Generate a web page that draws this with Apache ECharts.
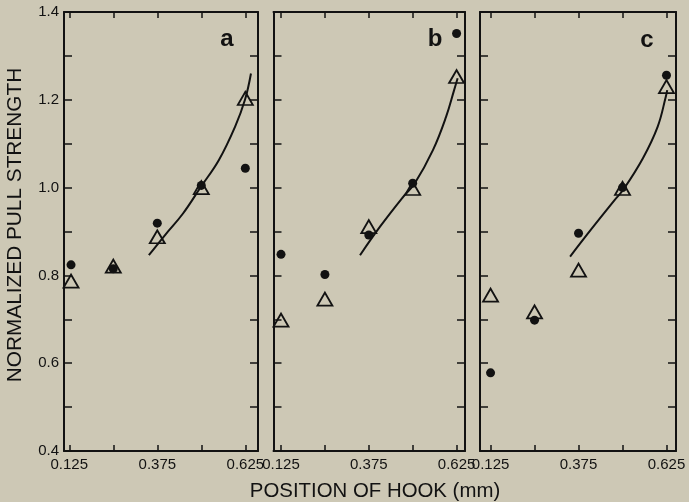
<!DOCTYPE html>
<html>
<head>
<meta charset="utf-8">
<script src="https://cdn.jsdelivr.net/npm/echarts@6/dist/echarts.min.js"></script>
<style>
html,body{margin:0;padding:0;background:#cdc8b5;}
#chart{width:689px;height:502px;}
</style>
</head>
<body>
<div id="chart"></div>
<script>
// ---- tick labels ----
var xTicks = [0.125, 0.25, 0.375, 0.5, 0.625];
var xLabels = [0.125, 0.375, 0.625];
var yTicks = [0.4, 0.5, 0.6, 0.7, 0.8, 0.9, 1.0, 1.1, 1.2, 1.3, 1.4];
var yLabels = [0.4, 0.6, 0.8, 1.0, 1.2, 1.4];
var panelNames = ['a', 'b', 'c'];

// ---- panel a ----
var aX = [0.13, 0.25, 0.375, 0.5, 0.625];
var aDot = [0.824, 0.815, 0.919, 1.005, 1.044];
var aTri = [0.787, 0.821, 0.888, 1.0, 1.203];
var aCurve = [[0.351,0.846],[0.397,0.892],[0.448,0.941],[0.499,1.002],[0.550,1.063],[0.596,1.139],[0.624,1.2],[0.641,1.26]];

// ---- panel b ----
var bX = [0.125, 0.25, 0.375, 0.5, 0.625];
var bDot = [0.848, 0.802, 0.892, 1.01, 1.351];
var bTri = [0.698, 0.746, 0.911, 0.998, 1.253];
var bCurve = [[0.350,0.846],[0.407,0.911],[0.473,0.979],[0.506,1.01],[0.558,1.086],[0.595,1.161],[0.618,1.222],[0.628,1.249]];

// ---- panel c ----
var cX = [0.125, 0.25, 0.375, 0.5, 0.625];
var cDot = [0.578, 0.698, 0.896, 1.0, 1.256];
var cTri = [0.755, 0.717, 0.812, 0.998, 1.23];
var cCurve = [[0.351,0.843],[0.413,0.907],[0.478,0.972],[0.502,0.995],[0.558,1.067],[0.600,1.139],[0.623,1.207],[0.627,1.222]];

var panels = [
  {x: aX, dot: aDot, tri: aTri, curve: aCurve},
  {x: bX, dot: bDot, tri: bTri, curve: bCurve},
  {x: cX, dot: cDot, tri: cTri, curve: cCurve}
];

// layout (pixels)
var grids = [
  {left: 64, width: 194, xmin: 0.110, xmax: 0.661},
  {left: 273.5, width: 191.5, xmin: 0.1036, xmax: 0.649},
  {left: 480, width: 196, xmin: 0.095, xmax: 0.652}
];
var INK = '#121212';
var FONT = 'Liberation Sans, Arial, sans-serif';

function zip(xs, ys){ return xs.map(function(x,i){ return [x, ys[i]]; }); }

var option = {
  backgroundColor: '#cdc8b5',
  animation: false,
  grid: [], xAxis: [], yAxis: [], series: [],
  graphic: []
};

grids.forEach(function(g, i){
  option.grid.push({left: g.left, width: g.width, top: 12, bottom: 51, containLabel: false});
  var lineStyle = {color: INK, width: 2};
  ['bottom','top'].forEach(function(pos){
    option.xAxis.push({
      type: 'value', gridIndex: i, position: pos, min: g.xmin, max: g.xmax,
      axisLine: {show: true, onZero: false, lineStyle: lineStyle},
      axisTick: {show: true, inside: true, length: 6, customValues: xTicks, lineStyle: {color: INK, width: 1.5}},
      axisLabel: pos === 'bottom' ? {show: true, customValues: xLabels, margin: 6, color: INK, fontSize: 15, fontFamily: FONT,
        formatter: function(v){ return v.toFixed(3); }} : {show: false},
      splitLine: {show: false}
    });
  });
  ['left','right'].forEach(function(pos){
    option.yAxis.push({
      type: 'value', gridIndex: i, position: pos, min: 0.4, max: 1.4,
      axisLine: {show: true, onZero: false, lineStyle: lineStyle},
      axisTick: {show: true, inside: true, length: 8, customValues: yTicks, lineStyle: {color: INK, width: 1.5}},
      axisLabel: (pos === 'left' && i === 0) ? {show: true, customValues: yLabels, margin: 5, color: INK, fontSize: 15, fontFamily: FONT,
        formatter: function(v){ return v.toFixed(1); }} : {show: false},
      splitLine: {show: false}
    });
  });
  var p = panels[i];
  option.series.push({
    type: 'line', xAxisIndex: 2*i, yAxisIndex: 2*i, data: p.curve, smooth: 0.4,
    showSymbol: false, lineStyle: {color: INK, width: 2}, silent: true, z: 2
  });
  option.series.push({
    type: 'scatter', xAxisIndex: 2*i, yAxisIndex: 2*i, data: zip(p.x, p.tri),
    symbol: 'triangle', symbolSize: [15, 13],
    itemStyle: {color: 'rgba(0,0,0,0)', borderColor: INK, borderWidth: 1.8, opacity: 1}, z: 3
  });
  option.series.push({
    type: 'scatter', xAxisIndex: 2*i, yAxisIndex: 2*i, data: zip(p.x, p.dot),
    symbol: 'circle', symbolSize: 9, itemStyle: {color: INK, opacity: 1}, z: 4
  });
});

// panel letters
var letterPos = [[227, 39], [435, 39], [647, 40]];
panelNames.forEach(function(n, i){
  option.graphic.push({type: 'text', x: letterPos[i][0], y: letterPos[i][1],
    style: {text: n, font: 'bold 24px ' + FONT, fill: INK, align: 'center', verticalAlign: 'middle'}});
});
// axis titles
option.graphic.push({type: 'text', x: 15, y: 225, rotation: Math.PI/2,
  style: {text: 'NORMALIZED PULL STRENGTH', font: '20.8px ' + FONT, fill: INK, align: 'center', verticalAlign: 'middle'}});
option.graphic.push({type: 'text', x: 375, y: 491,
  style: {text: 'POSITION OF HOOK (mm)', font: '20.4px ' + FONT, fill: INK, align: 'center', verticalAlign: 'middle'}});

var chart = echarts.init(document.getElementById('chart'), null, {renderer: 'canvas'});
chart.setOption(option);
</script>
</body>
</html>
